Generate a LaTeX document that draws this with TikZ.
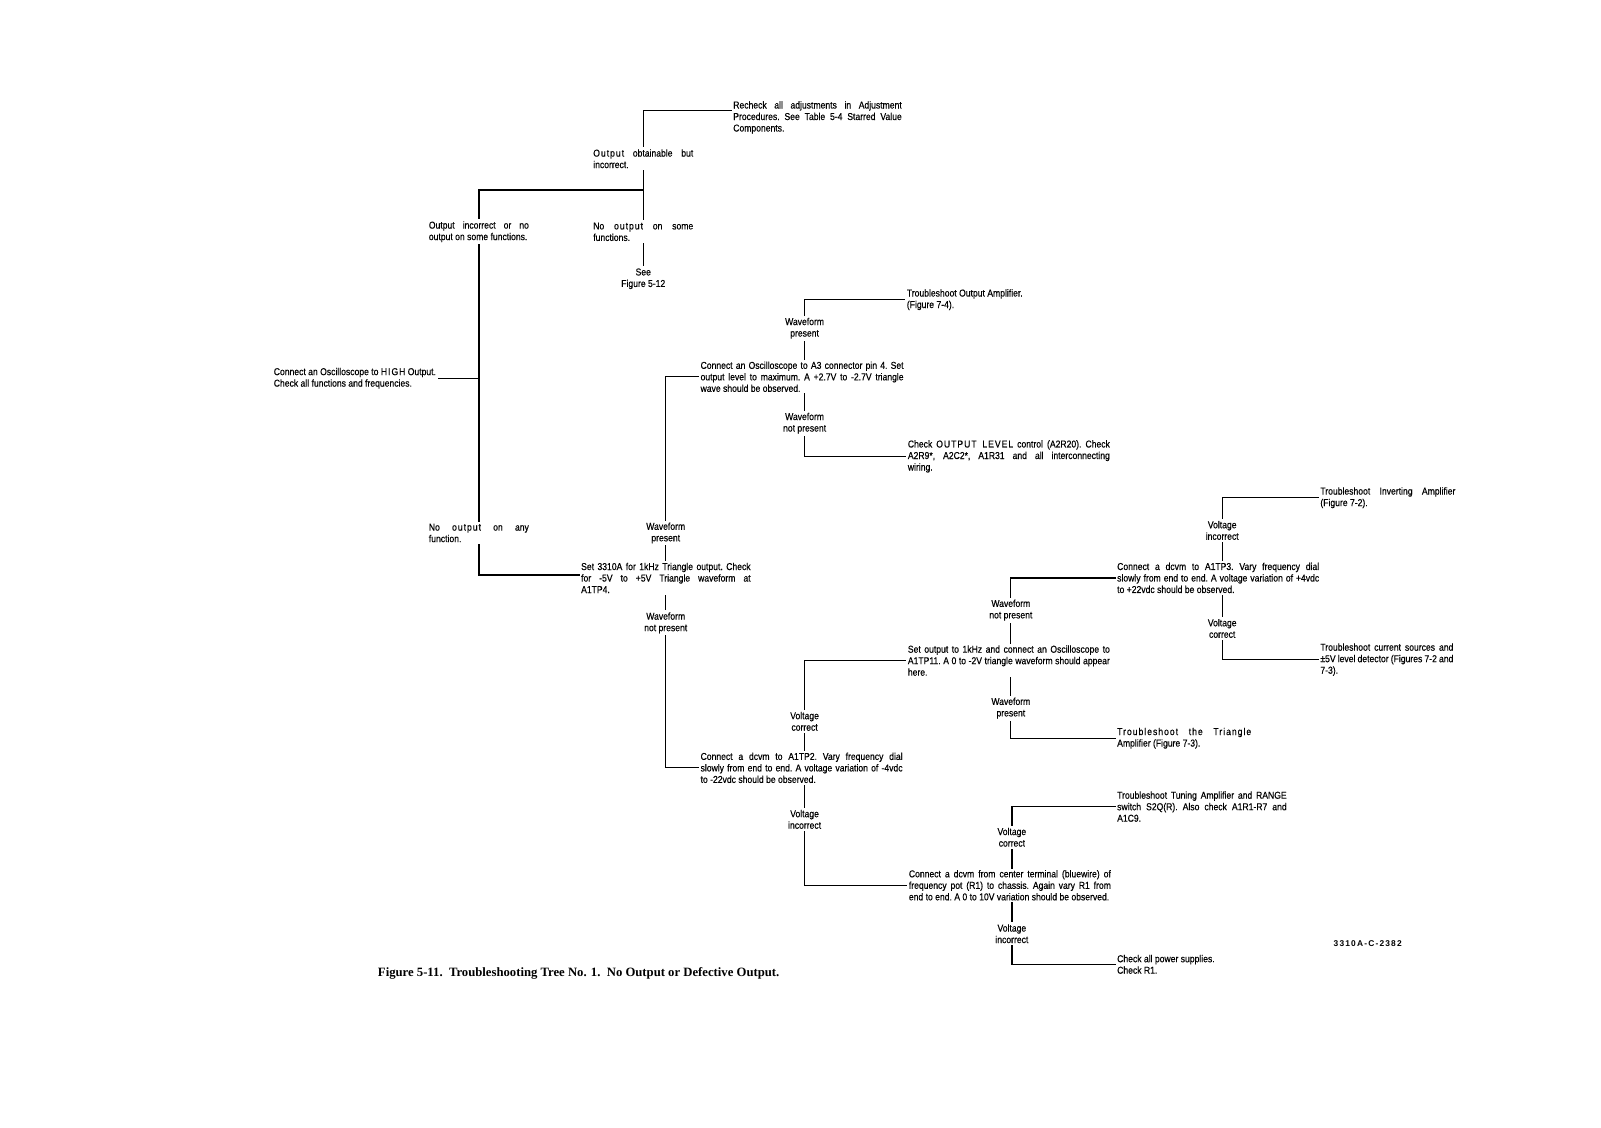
\documentclass[tikz,border=0pt]{standalone}
\usepackage{fontspec}
\setmainfont{Liberation Sans}[FakeStretch=0.86,FakeBold=0.35]
\newfontfamily\lsp{Liberation Sans}[FakeStretch=0.86,FakeBold=0.35,LetterSpace=10]
\newfontfamily\capfont{Liberation Serif}
\newfontfamily\idfont{Liberation Sans}[LetterSpace=14]
\newcommand\tfont{\fontsize{10}{11.5}\selectfont\frenchspacing}
\tikzset{
  txt/.style={inner xsep=2pt, inner ysep=2pt, font=\tfont, align=justify, anchor=west},
  ltxt/.style={inner xsep=2pt, inner ysep=2pt, font=\tfont, align=left, anchor=west},
  lab/.style={inner xsep=2pt, inner ysep=2.5pt, font=\tfont, align=center},
  wire/.style={line width=1.3pt, line cap=rect}
}
\begin{document}
\begin{tikzpicture}[x=1.021pt,y=-1.021pt]
\useasboundingbox[fill=white] (0,0) rectangle (1568,1104);

% root and first bus
\node[ltxt] (root) at (266,370.5) {Connect an Oscilloscope to {\lsp HIGH} Output.\\Check all functions and frequencies.};
\node[lab, text width=100pt, align=justify] (oi) at (469,227) {Output incorrect or no\linebreak output on some functions.};
\node[lab, text width=100pt, align=justify] (noa) at (469,522) {No {\lsp output} on any\linebreak function.};
\node[lab, text width=100pt, align=justify] (oob) at (630,155.5) {{\lsp Output} obtainable but\linebreak incorrect.};
\node[lab, text width=100pt, align=justify] (nos) at (630,227) {No {\lsp output} on some\linebreak functions.};
\node[lab] (see) at (630,273) {See\\Figure 5-12};
\node[txt, text width=168.5pt] (rc) at (716,115) {Recheck all adjustments in Adjustment\linebreak Procedures. See Table 5-4 Starred Value\linebreak Components.};
\coordinate (j1) at (630,186);

% second level
\node[txt, text width=169.5pt] (s3310) at (567,566) {Set 3310A for 1kHz Triangle output. Check\linebreak for -5V to +5V Triangle waveform at\linebreak A1TP4.};
\node[lab] (wp2) at (652,522) {Waveform\\present};
\node[lab] (wnp2) at (652,610) {Waveform\\not present};
\node[txt, text width=203pt] (a3) at (684,369) {Connect an Oscilloscope to A3 connector pin 4. Set\linebreak output level to maximum. A +2.7V to -2.7V triangle\linebreak wave should be observed.};
\node[lab] (wp1) at (788,321.5) {Waveform\\present};
\node[ltxt] (toa) at (886,293.5) {Troubleshoot Output Amplifier.\\(Figure 7-4).};
\node[lab] (wnp1) at (788,414.5) {Waveform\\not present};
\node[txt, text width=202pt] (chk) at (887,447) {Check {\lsp OUTPUT LEVEL} control (A2R20). Check\linebreak A2R9*, A2C2*, A1R31 and all interconnecting\linebreak wiring.};

\node[txt, text width=202pt] (tp2) at (684,752) {Connect a dcvm to A1TP2. Vary frequency dial\linebreak slowly from end to end. A voltage variation of -4vdc\linebreak to -22vdc should be observed.};
\node[lab] (vc1) at (788,706.5) {Voltage\\correct};
\node[lab] (vi1) at (788,802.5) {Voltage\\incorrect};
\node[txt, text width=202pt] (so) at (887,647) {Set output to 1kHz and connect an Oscilloscope to\linebreak A1TP11. A 0 to -2V triangle waveform should appear\linebreak here.};
\node[txt, text width=202pt] (ct) at (888,867) {Connect a dcvm from center terminal (bluewire) of\linebreak frequency pot (R1) to chassis. Again vary R1 from\linebreak end to end. A 0 to 10V variation should be observed.};

\node[lab] (wnp3) at (990,597.5) {Waveform\\not present};
\node[lab] (wp3) at (990,693.5) {Waveform\\present};
\node[txt, text width=202pt] (tp3) at (1092,566) {Connect a dcvm to A1TP3. Vary frequency dial\linebreak slowly from end to end. A voltage variation of +4vdc\linebreak to +22vdc should be observed.};
\node[txt, text width=134pt] (tta) at (1092,723) {{\lsp Troubleshoot the Triangle}\linebreak Amplifier (Figure 7-3).};
\node[lab] (vi2) at (1197,519.5) {Voltage\\incorrect};
\node[txt, text width=135pt] (tia) at (1291,487.5) {Troubleshoot Inverting Amplifier\linebreak (Figure 7-2).};
\node[lab] (vc2) at (1197,615.5) {Voltage\\correct};
\node[txt, text width=133pt] (tcs) at (1291,646) {Troubleshoot current sources and\linebreak ±5V level detector (Figures 7-2 and\linebreak 7-3).};

\node[lab] (vc3) at (991,820) {Voltage\\correct};
\node[txt, text width=169.5pt] (tun) at (1092,790) {Troubleshoot Tuning Amplifier and RANGE\linebreak switch S2Q(R). Also check A1R1-R7 and\linebreak A1C9.};
\node[lab] (vi3) at (991,914.5) {Voltage\\incorrect};
\node[ltxt] (cap) at (1092,944.5) {Check all power supplies.\\Check R1.};

% caption and id
\node[anchor=west, inner sep=0pt, font=\capfont\bfseries\fontsize{12.7}{14}\selectfont] (fig) at (370,953) {Figure 5-11.\ \ Troubleshooting Tree No. 1.\ \ No Output or Defective Output.};
\node[anchor=west, inner sep=0pt, font=\idfont\bfseries\fontsize{8.4}{9}\selectfont] (id) at (1306,924) {3310A-C-2382};

% connectors
\draw[wire] (root.east) -- (root.east -| oi.south);
\draw[wire] (oi.south) -- (noa.north);
\draw[wire] (oi.north) |- (j1);
\draw[wire] (oob.south) -- (nos.north);
\draw[wire] (oob.north) |- ([yshift=7pt]rc.west);
\draw[wire] (nos.south) -- (see.north);
\draw[wire] (noa.south) |- ([yshift=3pt]s3310.west);

\draw[wire] (wp2.south) -- (wp2.south |- s3310.north);
\draw[wire] (wp2.north) |- (a3.west);
\draw[wire] (wnp2.north) -- (wnp2.north |- s3310.south);
\draw[wire] (wnp2.south) |- (tp2.west);

\draw[wire] (wp1.south) -- (wp1.south |- a3.north);
\draw[wire] (wp1.north) |- (toa.west);
\draw[wire] (wnp1.north) -- (wnp1.north |- a3.south);
\draw[wire] (wnp1.south) |- (chk.west);

\draw[wire] (vc1.south) -- (vc1.south |- tp2.north);
\draw[wire] (vc1.north) |- (so.west);
\draw[wire] (vi1.north) -- (vi1.north |- tp2.south);
\draw[wire] (vi1.south) |- (ct.west);

\draw[wire] (wnp3.south) -- (wnp3.south |- so.north);
\draw[wire] (wnp3.north) |- (tp3.west);
\draw[wire] (wp3.north) -- (wp3.north |- so.south);
\draw[wire] (wp3.south) |- (tta.west);

\draw[wire] (vi2.south) -- (vi2.south |- tp3.north);
\draw[wire] (vi2.north) |- (tia.west);
\draw[wire] (vc2.north) -- (vc2.north |- tp3.south);
\draw[wire] (vc2.south) |- (tcs.west);

\draw[wire] (vc3.south) -- (vc3.south |- ct.north);
\draw[wire] (vc3.north) |- (tun.west);
\draw[wire] (vi3.north) -- (vi3.north |- ct.south);
\draw[wire] (vi3.south) |- (cap.west);
\end{tikzpicture}
\end{document}
